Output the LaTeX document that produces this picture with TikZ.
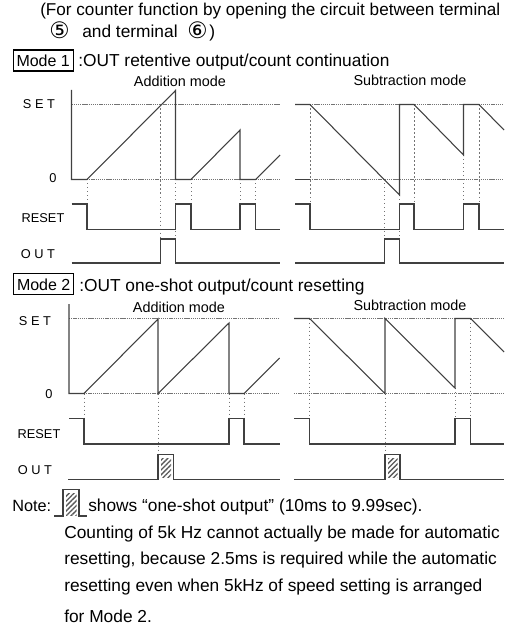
\documentclass[tikz,border=0pt]{standalone}
\usepackage{fontspec}
\setmainfont{Liberation Sans}
\newfontfamily\circfont{DejaVu Sans}
\usetikzlibrary{positioning,patterns.meta}

\begin{document}
\begin{tikzpicture}[
  x=0.75pt, y=-0.75pt,
  txt/.style={anchor=base west, inner sep=0pt, font=\fontsize{13}{15}\selectfont},
  circ/.style={anchor=base west, inner sep=0pt, font=\circfont\fontsize{17}{18}\selectfont},
  title/.style={anchor=base, inner sep=0pt, font=\fontsize{10.8}{12}\selectfont},
  axlabel/.style={anchor=base, inner sep=0pt, font=\fontsize{9.6}{12}\selectfont},
  modebox/.style={anchor=base west, draw=black, line width=1pt, inner xsep=2.5pt, inner ysep=3pt,
    text height=9.75pt, text depth=0pt, font=\fontsize{12}{14}\selectfont},
  wave/.style={draw=black!75, line width=0.8pt, line join=miter},
  guide/.style={draw=black!55, line width=0.6pt, dash pattern=on 0.8pt off 2.2pt},
  level/.style={draw=black!55, line width=0.6pt, dash pattern=on 1pt off 0.6pt},
  hatch/.style={pattern={Lines[angle=45,distance=2.6pt,line width=1pt]}, pattern color=black!65}
]
\useasboundingbox (0,0) rectangle (504,631);

% heading
\node[txt, font=\fontsize{12.85}{15}\selectfont] (head) at (40,16) {(For counter function by opening the circuit between terminal};
\node[circ] (five) at (49,38.5) {⑤};
\node[txt] (hand) at (82,38) {and terminal};
\node[circ] (six) at (187,38.5) {⑥};
\node[txt] (hclose) at (209,38) {)};

% mode 1
\node[modebox] (mone) at (12.5,67) {Mode 1};
\node[txt] (monetxt) at (78,67) {:OUT retentive output/count continuation};
\node[title] (addone) at (180,87) {Addition mode};
\node[title] (subone) at (410,86) {Subtraction mode};
\node[axlabel] (setone) at (39,109) {S E T};
\node[axlabel] (zeroone) at (53,182) {0};
\node[axlabel] (resetone) at (43,222) {RESET};
\node[axlabel] (outone) at (38,258) {O U T};

\draw[level] (71.5,104.5) -- (280,104.5);
\draw[level] (295,104.5) -- (504,104.5);
\draw[level] (87,179.5) -- (280,179.5);
\draw[level] (310,179.5) -- (504,179.5);

\foreach \xa/\ya/\yb in {87/179/204, 160.7/104.5/239, 175.5/179/239, 191/179/204, 240/179/204, 255.5/179/204,
  310/104.5/204, 384.5/179/239, 399.5/195/239, 414/104.5/204, 463.5/155/204, 479/104.5/204}
  \draw[guide] (\xa,\ya) -- (\xa,\yb);

\draw[wave] (71.5,90) -- (71.5,179.5) -- (87,179.5) -- (175.5,90.5) -- (175.5,179.5) -- (191,179.5)
  -- (240,130) -- (240,179.5) -- (255.5,179.5) -- (280,155);
\draw[wave] (295,104.5) -- (310,104.5) -- (399.5,195) -- (399.5,104.5) -- (414,104.5) -- (463.5,155)
  -- (463.5,104.5) -- (479,104.5) -- (504,130);
\draw[wave] (295,179.5) -- (310,179.5);
\draw[wave] (71.5,204) -- (87,204) -- (87,229.5) -- (175.5,229.5) -- (175.5,204) -- (191,204) -- (191,229.5)
  -- (240,229.5) -- (240,204) -- (255.5,204) -- (255.5,229.5) -- (280,229.5);
\draw[wave] (295,204) -- (310,204) -- (310,229.5) -- (399.5,229.5) -- (399.5,204) -- (414,204) -- (414,229.5)
  -- (463.5,229.5) -- (463.5,204) -- (479,204) -- (479,229.5) -- (504,229.5);
\draw[wave] (71.5,263) -- (160.7,263) -- (160.7,239) -- (175.5,239) -- (175.5,263) -- (280,263);
\draw[wave] (295,263) -- (384.5,263) -- (384.5,239) -- (399.5,239) -- (399.5,263) -- (504,263);

% mode 2
\node[modebox] (mtwo) at (13,290.5) {Mode 2};
\node[txt] (mtwotxt) at (79,291) {:OUT one-shot output/count resetting};
\node[title] (addtwo) at (179,312) {Addition mode};
\node[title] (subtwo) at (410,310) {Subtraction mode};
\node[axlabel] (settwo) at (35,325) {S E T};
\node[axlabel] (zerotwo) at (49,398) {0};
\node[axlabel] (resettwo) at (39,438) {RESET};
\node[axlabel] (outtwo) at (35,474) {O U T};

\draw[level] (69,318.5) -- (280,318.5);
\draw[level] (294,318.5) -- (504,318.5);
\draw[level] (84,393.5) -- (280,393.5);
\draw[level] (294,393.5) -- (504,393.5);

\foreach \xa/\ya/\yb in {84/393.5/418.5, 158/393.5/454.5, 229/393.5/418.5, 244/393.5/418.5,
  309.5/318.5/418.5, 385/393.5/454.5, 455/388/418.5, 470.5/318.5/418.5}
  \draw[guide] (\xa,\ya) -- (\xa,\yb);

\draw[wave] (69,304) -- (69,393.5) -- (84,393.5) -- (158,319) -- (158,393.5) -- (229,323) -- (229,393.5)
  -- (244,393.5) -- (279.5,358);
\draw[wave] (294,318.5) -- (309.5,318.5) -- (385,393.5) -- (385,318.5) -- (455,388) -- (455,318.5)
  -- (470.5,318.5) -- (504,352);
\draw[wave] (69,418.5) -- (84,418.5) -- (84,444) -- (229,444) -- (229,418.5) -- (244,418.5) -- (244,444) -- (280,444);
\draw[wave] (294,418.5) -- (309.5,418.5) -- (309.5,444) -- (455,444) -- (455,418.5) -- (470.5,418.5)
  -- (470.5,444) -- (504,444);
\path[hatch] (161,458) rectangle (171,477);
\path[hatch] (388,458) rectangle (397.5,477);
\draw[wave] (68,479.5) -- (158,479.5) -- (158,454.5) -- (173.5,454.5) -- (173.5,479.5) -- (280,479.5);
\draw[wave] (294,479.5) -- (385,479.5) -- (385,454.5) -- (400,454.5) -- (400,479.5) -- (504,479.5);

% note
\node[txt, font=\fontsize{12.2}{14}\selectfont] (note) at (12,511) {Note:};
\path[hatch] (66,493) rectangle (76.5,515);
\draw[wave] (54,516) -- (63,516) -- (63,489.5) -- (79,489.5) -- (79,516) -- (87,516);
\node[txt] (shows) at (88,511) {shows “one-shot output” (10ms to 9.99sec).};
\node[txt] (lineone) at (64,538) {Counting of 5k Hz cannot actually be made for automatic};
\node[txt] (linetwo) at (64,564) {resetting, because 2.5ms is required while the automatic};
\node[txt] (linethree) at (64,591) {resetting even when 5kHz of speed setting is arranged};
\node[txt] (linefour) at (64,622) {for Mode 2.};
\end{tikzpicture}
\end{document}
